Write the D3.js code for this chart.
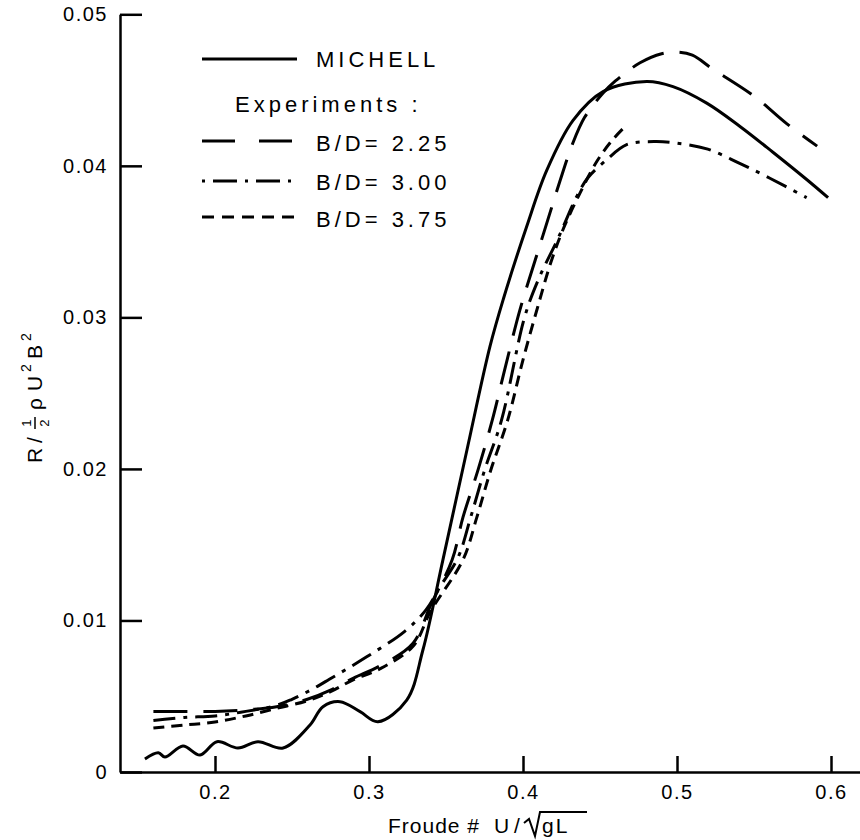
<!DOCTYPE html>
<html>
<head>
<meta charset="utf-8">
<script src="https://cdn.jsdelivr.net/npm/d3@7"></script>
<style>
  body { margin: 0; background: #fff; }
  svg { display: block; font-family: "Liberation Sans", Arial, sans-serif; }
</style>
</head>
<body>
<svg width="860" height="840"></svg>
<script>
// axis ticks
const xTicks = [0.2, 0.3, 0.4, 0.5, 0.6];
const yTicks = [0, 0.01, 0.02, 0.03, 0.04, 0.05];
const yTickLabels = ["0", "0.01", "0.02", "0.03", "0.04", "0.05"];

// Michell theory (solid)
const michellX = [0.1545, 0.1632, 0.1675, 0.1792, 0.1903, 0.2013, 0.2149, 0.2279, 0.2442, 0.2617, 0.2701, 0.2812, 0.2942, 0.3058, 0.3245, 0.335, 0.348, 0.3636, 0.3786, 0.3872, 0.4024, 0.4154, 0.4325, 0.452, 0.4803, 0.4974, 0.5193, 0.5409, 0.5623, 0.5842, 0.5981];
const michellY = [0.00086, 0.00127, 0.00099, 0.00172, 0.00112, 0.0020, 0.00158, 0.0020, 0.00158, 0.0031, 0.00431, 0.00464, 0.00398, 0.00332, 0.00475, 0.00805, 0.0140, 0.02125, 0.0281, 0.0312, 0.0360, 0.0397, 0.0430, 0.0449, 0.04557, 0.04523, 0.04414, 0.0426, 0.0409, 0.0391, 0.0379];

// experiments B/D = 2.25 (long dash)
const bd225X = [0.160, 0.180, 0.200, 0.220, 0.240, 0.260, 0.275, 0.290, 0.307, 0.3286, 0.340, 0.354, 0.361, 0.371, 0.380, 0.388, 0.398, 0.408, 0.416, 0.424, 0.432, 0.440, 0.452, 0.460, 0.476, 0.490, 0.500, 0.510, 0.523, 0.550, 0.571, 0.591];
const bd225Y = [0.0040, 0.0040, 0.0040, 0.0041, 0.0043, 0.0048, 0.0054, 0.0062, 0.0070, 0.0085, 0.0110, 0.0140, 0.0168, 0.0200, 0.0232, 0.0265, 0.0305, 0.0338, 0.0364, 0.0390, 0.0414, 0.0432, 0.0448, 0.0456, 0.0468, 0.0474, 0.0475, 0.0473, 0.0464, 0.0446, 0.0428, 0.0413];

// experiments B/D = 3.00 (dash-dot)
const bd300X = [0.160, 0.180, 0.200, 0.220, 0.240, 0.250, 0.262, 0.274, 0.2985, 0.3234, 0.337, 0.346, 0.358, 0.366, 0.375, 0.386, 0.401, 0.410, 0.4227, 0.435, 0.442, 0.4543, 0.4673, 0.485, 0.500, 0.520, 0.540, 0.560, 0.5842];
const bd300Y = [0.0034, 0.0036, 0.0037, 0.0040, 0.0044, 0.0048, 0.0054, 0.0061, 0.0076, 0.0093, 0.0107, 0.0122, 0.0142, 0.0168, 0.0199, 0.0232, 0.0300, 0.0325, 0.0352, 0.0380, 0.0392, 0.0404, 0.0414, 0.0416, 0.0415, 0.0411, 0.0402, 0.0392, 0.0379];

// experiments B/D = 3.75 (short dash)
const bd375X = [0.160, 0.180, 0.200, 0.220, 0.240, 0.260, 0.275, 0.290, 0.307, 0.3286, 0.340, 0.361, 0.370, 0.379, 0.390, 0.400, 0.411, 0.418, 0.426, 0.437, 0.448, 0.458, 0.4673];
const bd375Y = [0.0029, 0.0031, 0.0033, 0.0037, 0.0042, 0.0047, 0.0053, 0.0061, 0.0068, 0.0083, 0.0106, 0.0140, 0.0168, 0.0199, 0.0232, 0.0272, 0.0312, 0.0336, 0.0358, 0.0382, 0.0403, 0.0417, 0.0427];

const series = [
  { name: "MICHELL", xs: michellX, ys: michellY, dash: null, key: null },
  { name: "B/D= 2.25", xs: bd225X, ys: bd225Y, dash: "34,16", key: "33,24" },
  { name: "B/D= 3.00", xs: bd300X, ys: bd300Y, dash: "22,8,4,8", key: "3,8,24,8" },
  { name: "B/D= 3.75", xs: bd375X, ys: bd375Y, dash: "11,7", key: "12,8" }
];

const svg = d3.select("svg");

const x = d3.scaleLinear().domain([0.13831, 0.61883]).range([120, 860]);
const y = d3.scaleLinear().domain([0, 0.05]).range([772, 14.3]);

// axes
const xAxis = svg.append("g")
  .attr("transform", "translate(0,772)")
  .call(d3.axisBottom(x).tickValues(xTicks).tickSize(-16).tickSizeOuter(0).tickPadding(10)
    .tickFormat(d3.format(".1f")));
const yAxis = svg.append("g")
  .attr("transform", "translate(120,0)")
  .call(d3.axisLeft(y).tickValues(yTicks).tickSize(-22).tickSizeOuter(0).tickPadding(12)
    .tickFormat((d, i) => yTickLabels[i]));

svg.selectAll(".domain, .tick line").attr("stroke", "#000").attr("stroke-width", 2.5);
svg.selectAll(".tick text")
  .attr("fill", "#000")
  .attr("font-size", 20)
  .attr("letter-spacing", 1.5)
  .attr("font-family", "Liberation Sans, Arial, sans-serif");
xAxis.selectAll(".tick text").attr("dy", "0.85em");

// curves
const line = d3.line()
  .x(d => x(d[0]))
  .y(d => y(d[1]))
  .curve(d3.curveCatmullRom.alpha(0.5));

svg.append("g").selectAll("path")
  .data(series)
  .join("path")
  .attr("d", s => line(s.xs.map((v, i) => [v, s.ys[i]])))
  .attr("fill", "none")
  .attr("stroke", "#000")
  .attr("stroke-width", 3)
  .attr("stroke-dasharray", s => s.dash);

// legend
const legend = svg.append("g").attr("font-size", 22).attr("letter-spacing", 4);
const legendRows = [
  { s: series[0], ly: 59, ty: 67 },
  { s: series[1], ly: 141, ty: 151 },
  { s: series[2], ly: 181, ty: 190 },
  { s: series[3], ly: 217, ty: 227 }
];
legendRows.forEach(r => {
  legend.append("line")
    .attr("x1", 202).attr("x2", 297)
    .attr("y1", r.ly).attr("y2", r.ly)
    .attr("stroke", "#000").attr("stroke-width", 3)
    .attr("stroke-dasharray", r.s.key);
  legend.append("text").attr("x", 316).attr("y", r.ty).text(r.s.name);
});
legend.append("text").attr("x", 235).attr("y", 112).text("Experiments :");

// x axis title
const xt = svg.append("g").attr("font-size", 21).attr("letter-spacing", 1);
xt.append("text").attr("x", 388).attr("y", 833).text("Froude #");
xt.append("text").attr("x", 494).attr("y", 833).text("U");
xt.append("text").attr("x", 514).attr("y", 833).text("/");
xt.append("text").attr("x", 542).attr("y", 833).attr("letter-spacing", 2).text("gL");
xt.append("path")
  .attr("d", "M524,823 L529,819 L535,836 L540,812 L587,812")
  .attr("fill", "none").attr("stroke", "#000").attr("stroke-width", 2);

// y axis title
const yt = svg.append("g").attr("transform", "translate(42,463) rotate(-90)")
  .attr("font-size", 21);
yt.append("text").attr("x", 0).attr("y", 0).text("R");
yt.append("text").attr("x", 20).attr("y", 0).text("/");
yt.append("text").attr("x", 40).attr("y", -11).attr("font-size", 13).attr("text-anchor", "middle").text("1");
yt.append("line").attr("x1", 34).attr("x2", 46).attr("y1", -7).attr("y2", -7)
  .attr("stroke", "#000").attr("stroke-width", 1.5);
yt.append("text").attr("x", 40).attr("y", 7).attr("font-size", 13).attr("text-anchor", "middle").text("2");
yt.append("text").attr("x", 53).attr("y", 0).text("ρ");
yt.append("text").attr("x", 72).attr("y", 0).text("U");
yt.append("text").attr("x", 91).attr("y", -11).attr("font-size", 14).text("2");
yt.append("text").attr("x", 104).attr("y", 0).text("B");
yt.append("text").attr("x", 122).attr("y", -11).attr("font-size", 14).text("2");
</script>
</body>
</html>
